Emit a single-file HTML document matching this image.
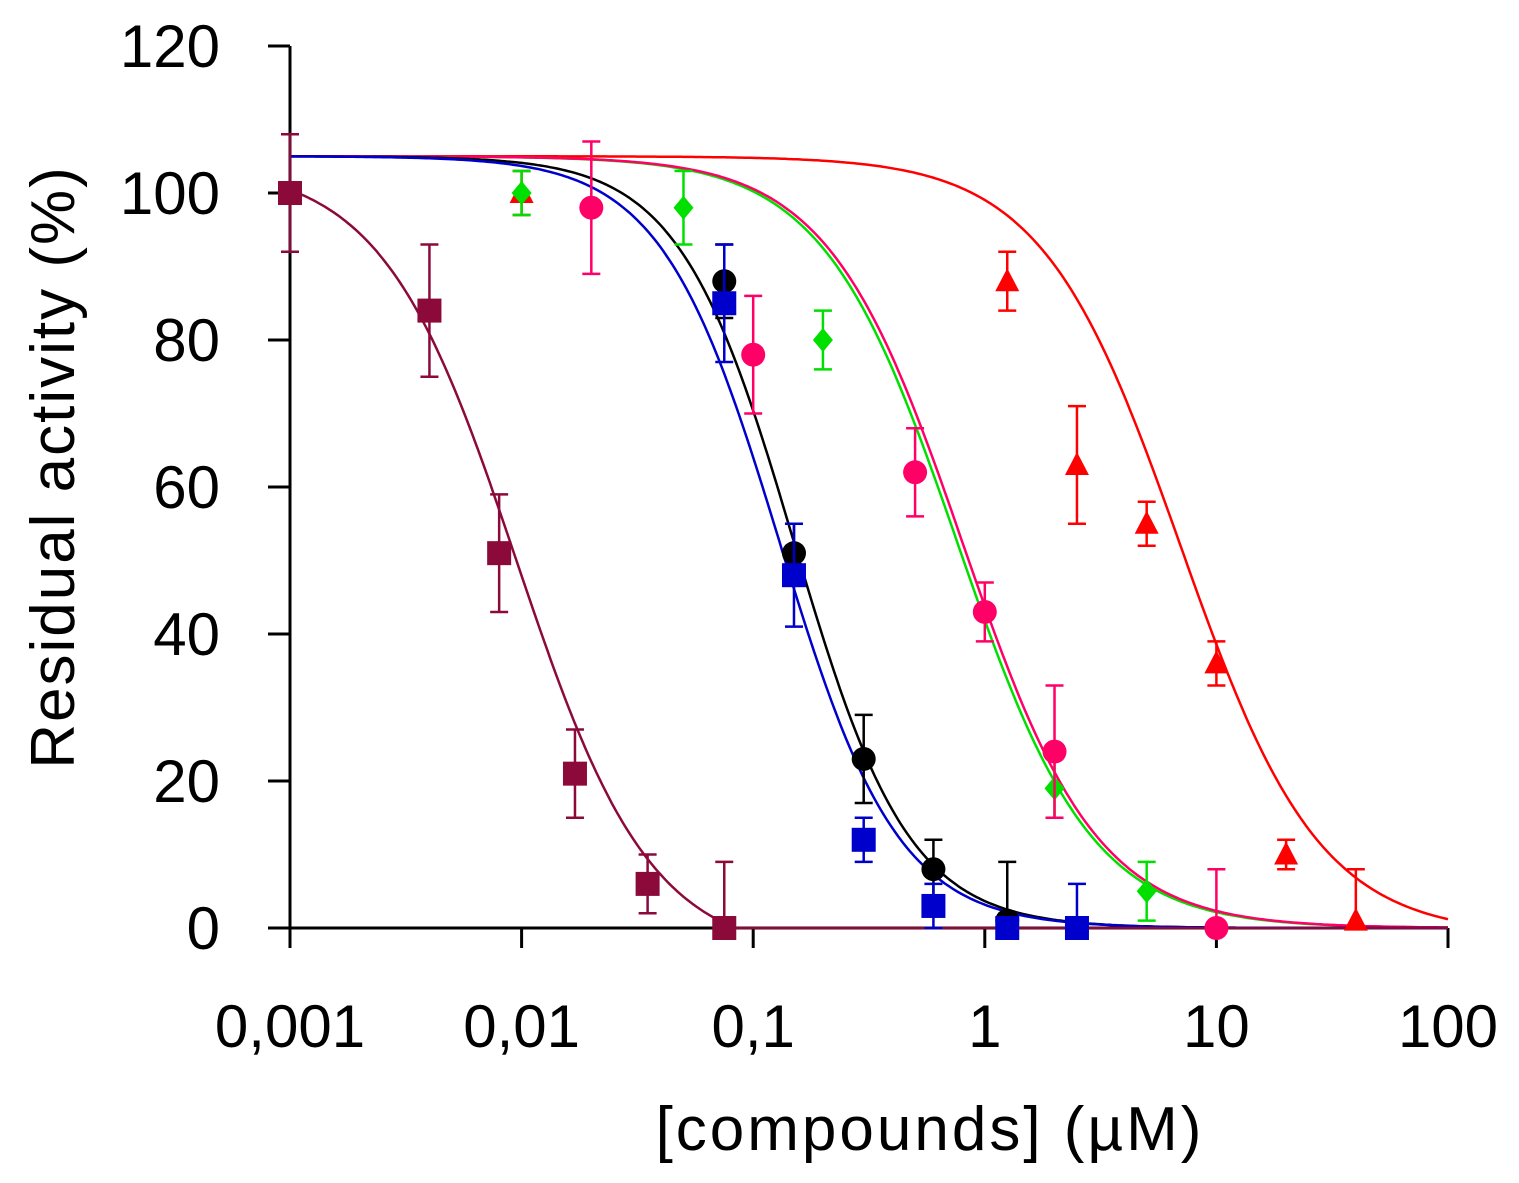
<!DOCTYPE html>
<html><head><meta charset="utf-8"><style>
html,body{margin:0;padding:0;background:#fff;}
svg{display:block;font-family:"Liberation Sans",sans-serif;}
</style></head><body>
<svg id="chart" width="1519" height="1183" viewBox="0 0 1519 1183"></svg>
<script>
const xTicks=[0.001,0.01,0.1,1,10,100];
const xTickLabels=["0,001","0,01","0,1","1","10","100"];
const yTicks=[0,20,40,60,80,100,120];
// series data
const maroonX=[0.001,0.004,0.008,0.017,0.035,0.075];
const maroonY=[100,84,51,21,6,0];
const maroonErr=[8,9,8,6,4,9];
const blueX=[0.075,0.15,0.3,0.6,1.25,2.5];
const blueY=[85,48,12,3,0,0];
const blueErr=[8,7,3,3,1,6];
const blackX=[0.075,0.15,0.3,0.6,1.25];
const blackY=[88,51,23,8,1];
const blackErr=[5,4,6,4,8];
const greenX=[0.01,0.05,0.2,2,5];
const greenY=[100,98,80,19,5];
const greenErr=[3,5,4,4,4];
const pinkX=[0.02,0.1,0.5,1,2,10];
const pinkY=[98,78,62,43,24,0];
const pinkErr=[9,8,6,4,9,8];
const redX=[0.01,1.25,2.5,5,10,20,40];
const redY=[100,88,63,55,36,10,1];
const redErr=[3,4,8,3,3,2,7];
// fit params [top, bottom, ic50, hill]
const maroonFit=[104,-4,0.0095,1.5];
const blueFit=[105,0,0.13,1.7];
const blackFit=[105,0,0.15,1.75];
const greenFit=[105,0,0.76,1.5];
const pinkFit=[105,0,0.8,1.5];
const redFit=[105,-1,7,1.45];

const svg=document.getElementById('chart');
const NS='http://www.w3.org/2000/svg';
const X0=290,DEC=231.6,Y0=928,YS=7.35;
function sx(v){return X0+Math.log10(v/0.001)*DEC;}
function sy(v){return Y0-v*YS;}
function mk(t,a){const e=document.createElementNS(NS,t);for(const k in a)e.setAttribute(k,a[k]);svg.appendChild(e);return e;}

let e=mk('line',{x1:X0,y1:46,x2:X0,y2:Y0,stroke:'#000','stroke-width':3});


e=mk('line',{x1:X0,y1:Y0,x2:sx(100),y2:Y0,stroke:'#000','stroke-width':3});


yTicks.forEach(v=>{
  let t=mk('line',{x1:268,y1:sy(v),x2:X0,y2:sy(v),stroke:'#000','stroke-width':3});
  
  
  let l=mk('text',{x:220,y:sy(v)+21,'text-anchor':'end','font-size':60,fill:'#000'});
  l.textContent=v;
  
  
});
xTicks.forEach((v,i)=>{
  let t=mk('line',{x1:sx(v),y1:Y0,x2:sx(v),y2:Y0+20,stroke:'#000','stroke-width':3});
  
  
  let l=mk('text',{x:sx(v),y:1047,'text-anchor':'middle','font-size':60,fill:'#000'});
  l.textContent=xTickLabels[i];
  
  
});
e=mk('text',{x:930,y:1150,'text-anchor':'middle','font-size':62,'letter-spacing':3,fill:'#000'});
e.textContent='[compounds] (µM)';


e=mk('text',{x:0,y:0,'text-anchor':'middle','font-size':62,'letter-spacing':2,fill:'#000',transform:'translate(74,467) rotate(-90)'});
e.textContent='Residual activity (%)';



function curve(p,color,name){
  let d='';
  for(let i=0;i<=400;i++){
    const lx=-3+5*i/400, x=Math.pow(10,lx);
    const y=p[1]+(p[0]-p[1])/(1+Math.pow(x/p[2],p[3]));
    d+=(i?'L':'M')+sx(x).toFixed(1)+','+sy(Math.max(y,0)).toFixed(1);
  }
  const c=mk('path',{d:d,fill:'none',stroke:color,'stroke-width':2.5});
  
  
}
function points(xs,ys,er,color,shape,name){
  xs.forEach((x,i)=>{
    const cx=sx(x),cy=sy(ys[i]),t=sy(ys[i]+er[i]),b=sy(Math.max(ys[i]-er[i],0));
    const eb=mk('path',{d:`M${cx},${t}V${b}M${cx-9},${t}H${cx+9}M${cx-9},${b}H${cx+9}`,stroke:color,'stroke-width':2.5,fill:'none'});
    
    
    let m;
    if(shape==='square')m=mk('rect',{x:cx-12,y:cy-12,width:24,height:24,fill:color});
    else if(shape==='circle')m=mk('circle',{cx:cx,cy:cy,r:12,fill:color});
    else if(shape==='diamond')m=mk('path',{d:`M${cx},${cy-12}L${cx+10},${cy}L${cx},${cy+12}L${cx-10},${cy}Z`,fill:color});
    else m=mk('path',{d:`M${cx},${cy-13}L${cx+12},${cy+10}L${cx-12},${cy+10}Z`,fill:color});
    
    
  });
}
curve(redFit,'#ff0000','red');
curve(greenFit,'#00e000','green');
curve(pinkFit,'#ff0066','pink');
curve(blackFit,'#000000','black');
curve(blueFit,'#0000cc','blue');
curve(maroonFit,'#8b0a3a','maroon');
points(redX,redY,redErr,'#ff0000','triangle','red');
points(greenX,greenY,greenErr,'#00e000','diamond','green');
points(pinkX,pinkY,pinkErr,'#ff0066','circle','pink');
points(blackX,blackY,blackErr,'#000000','circle','black');
points(blueX,blueY,blueErr,'#0000cc','square','blue');
points(maroonX,maroonY,maroonErr,'#8b0a3a','square','maroon');
</script>
</body></html>
